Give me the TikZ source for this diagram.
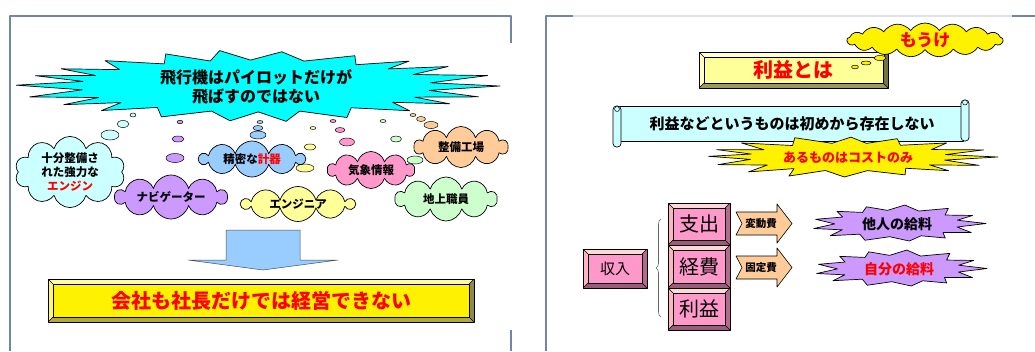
\documentclass[tikz,border=0pt]{standalone}
\usepackage{fontspec}
\setmainfont{Noto Sans CJK JP}[BoldFont={Noto Sans CJK JP Black}]
\usetikzlibrary{shapes.symbols,decorations.pathreplacing,calc}
\definecolor{frameC}{HTML}{7186A8}
\definecolor{frameL}{HTML}{DCE3EE}
\definecolor{cyanB}{HTML}{00FFFF}
\definecolor{lcyan}{HTML}{CCFFFF}
\definecolor{lpurple}{HTML}{CC99FF}
\definecolor{lblue}{HTML}{99CCFF}
\definecolor{lyellow}{HTML}{FFFF99}
\definecolor{lpink}{HTML}{FF99CC}
\definecolor{lgreen}{HTML}{CCFFCC}
\definecolor{lorange}{HTML}{FFCC99}
\definecolor{redT}{HTML}{FF0000}
\newcommand\bevw{5pt}
\newcommand\boom[7]{%
  \pgfmathtruncatemacro\boomS{2*#5}%
  \pgfmathtruncatemacro\boomE{2*#5-1}%
  \draw[#7] plot[variable=\i, domain=0:\boomE, samples=\boomS]
   ({#1+#3*(mod(round(\i),2)==0 ? 1-0.07*abs(sin(\i*73)) : #6)*cos(\i*180/#5+2*sin(\i*51))},
    {#2+#4*(mod(round(\i),2)==0 ? 1-0.07*abs(sin(\i*73)) : #6)*sin(\i*180/#5+2*sin(\i*51))}) -- cycle;}
\tikzset{
  frame/.style={draw=frameC, line width=1.3pt},
  framelight/.style={draw=frameL, line width=1.3pt},
  outl/.style={draw=black, line width=0.7pt},
  cloudy/.style={cloud, cloud puffs=10, cloud ignores aspect, draw=black, line width=0.7pt,
     inner sep=0pt, align=center, font=\bfseries\fontsize{11.5}{14}\selectfont},
  bub/.style={fill=#1, draw=black, line width=0.5pt},
  bevelbox/.style n args={5}{draw=black, line width=0.6pt, fill=#1, inner sep=0pt,
    path picture={
      \coordinate (pnw) at (path picture bounding box.north west);
      \coordinate (pne) at (path picture bounding box.north east);
      \coordinate (psw) at (path picture bounding box.south west);
      \coordinate (pse) at (path picture bounding box.south east);
      \coordinate (inw) at ([shift={(\bevw,-\bevw)}]pnw);
      \coordinate (ine) at ([shift={(-\bevw,-\bevw)}]pne);
      \coordinate (isw) at ([shift={(\bevw,\bevw)}]psw);
      \coordinate (ise) at ([shift={(-\bevw,\bevw)}]pse);
      \fill[#2] (pnw) -- (pne) -- (ine) -- (inw) -- cycle;
      \fill[#3] (pnw) -- (inw) -- (isw) -- (psw) -- cycle;
      \fill[#4] (psw) -- (isw) -- (ise) -- (pse) -- cycle;
      \fill[#5] (pne) -- (pse) -- (ise) -- (ine) -- cycle;
      \draw[line width=0.5pt] (inw) rectangle (ise);
      \draw[line width=0.4pt] (pnw) -- (inw) (pne) -- (ine) (psw) -- (isw) (pse) -- (ise);
    }},
  pinkbox/.style={bevelbox={lpink}{pink!60!white}{pink!70!lpink}{lpink!60!black}{lpink!70!black}},
  arr/.style={fill=lorange, draw=black, line width=0.6pt},
}
\begin{document}
\begin{tikzpicture}[x=1pt,y=-1pt,line join=round]
\useasboundingbox[fill=white] (0,0) rectangle (1035,351);
% frames
\draw[frame] (10,351) -- (10,16) -- (511,16) -- (511,43);
\draw[frame] (511,330) -- (511,351);
\draw[framelight] (573,16) -- (1012,16);
\draw[frame] (546,351) -- (546,16) -- (573,16);
\draw[frame] (1012,16) -- (1035,16);

% ===== left panel =====
\boom{256}{86}{244}{36}{22}{0.72}{fill=cyanB, outl}
\node[font=\bfseries\fontsize{16}{19}\selectfont, align=center] (title) at (256,87)
  {飛行機はパイロットだけが\\飛ばすのではない};

% thought bubbles
\draw[bub=lcyan] (133,115) ellipse (3 and 2) (123,124) ellipse (6 and 3.5) (110,135) ellipse (9 and 5);
\draw[bub=lpurple] (180,122) ellipse (3 and 1.7) (178,139) ellipse (6 and 3) (175,158) ellipse (9 and 4.5);
\draw[bub=lblue] (260,122) ellipse (3 and 1.5) (258,128) ellipse (5 and 2.5) (258,135) ellipse (8 and 4);
\draw[bub=lyellow] (313,128) ellipse (3 and 1.5) (310,147) ellipse (6 and 3) (305,168) ellipse (9 and 4);
\draw[bub=lpink] (333,121) ellipse (3 and 1.5) (340,130) ellipse (5 and 2.5) (347,142) ellipse (7.5 and 4);
\draw[bub=lgreen] (383,121) ellipse (3 and 1.5) (396,139) ellipse (5.5 and 3) (415,160) ellipse (8 and 4);
\draw[bub=lorange] (413,115) ellipse (3 and 1.5) (421,119) ellipse (4.5 and 2.5) (431,125) ellipse (7 and 3.5);

% clouds
\node[cloudy, fill=lcyan, minimum width=110, minimum height=66] (engine) at (70,172)
  {十分整備さ\\れた強力な\\\textcolor{redT}{エンジン}};
\node[cloudy, fill=lpurple, minimum width=112, minimum height=44] (navi) at (171,197) {ナビゲーター};
\node[cloudy, fill=lblue, minimum width=105, minimum height=36] (keiki) at (252,159) {精密な\textcolor{redT}{計器}};
\node[cloudy, fill=lyellow, minimum width=112, minimum height=35] (enginr) at (298,204) {エンジニア};
\node[cloudy, fill=lpink, minimum width=87, minimum height=37] (kisho) at (371,170) {気象情報};
\node[cloudy, fill=lorange, minimum width=94, minimum height=41] (kojo) at (461,147) {整備工場};
\node[cloudy, fill=lgreen, minimum width=102, minimum height=44] (chijo) at (446,199) {地上職員};

% down arrow
\draw[fill=lblue, draw=black!70, line width=0.5pt] (226,230) -- (300,230) -- (300,260) -- (338,260)
  -- (263,270) -- (188,260) -- (226,260) -- cycle;

% bottom yellow box
\node[bevelbox={yellow}{yellow!35!white}{yellow!60!white}{yellow!65!black}{yellow!50!black},
  minimum width=426, minimum height=43, font=\bfseries\fontsize{20}{24}\selectfont, text=redT]
  (kaisha) at (261,300.5) {会社も社長だけでは経営できない};

% ===== right panel =====
\node[bevelbox={lyellow}{lyellow!40!white}{lyellow!60!white}{lyellow!60!black}{lyellow!45!black},
  minimum width=189, minimum height=36, font=\bfseries\fontsize{20}{24}\selectfont, text=redT]
  (rieki) at (793.5,70) {利益とは};

\node[cloudy, fill=yellow, cloud puffs=17, cloud puff arc=110, minimum width=156, minimum height=34,
  font=\bfseries\fontsize{17}{20}\selectfont, text=redT] (mouke) at (925,40) {もうけ};
\draw[bub=yellow] (880,58) ellipse (6 and 2.5) (866,63) ellipse (5 and 2) (855,67) ellipse (3.5 and 1.8);

% scroll
\draw[fill=lcyan, outl] (619,106) rectangle (963,141);
\draw[fill=lcyan, outl, rounded corners=3.5] (613,106) rectangle (621,147);
\draw[fill=lcyan, line width=0.5pt] (617,109) circle (2.5);
\draw[fill=lcyan, outl, rounded corners=3.5] (961,100) rectangle (969,141);
\draw[fill=lcyan, line width=0.5pt] (965,102.5) circle (2.5);
\node[font=\bfseries\fontsize{15}{18}\selectfont] (sonzai) at (792,124)
  {利益などというものは初めから存在しない};

\boom{848}{157}{150}{21}{16}{0.66}{fill=yellow, outl}
\node[font=\bfseries\fontsize{13}{16}\selectfont, text=redT] (cost) at (848,158) {あるものはコストのみ};

% income boxes
\node[pinkbox, minimum width=64, minimum height=39, font=\fontsize{15}{18}\selectfont] (shunyu) at (615,268.5) {収入};
\node[pinkbox, minimum width=62, minimum height=42, font=\fontsize{20}{24}\selectfont] (shishutsu) at (699,224) {支出};
\node[pinkbox, minimum width=62, minimum height=43, font=\fontsize{20}{24}\selectfont] (keihi) at (699,266.5) {経費};
\node[pinkbox, minimum width=62, minimum height=42, font=\fontsize{20}{24}\selectfont] (riekib) at (699,309) {利益};

\coordinate (brTop) at (661,219);
\coordinate (brBot) at (661,317);
\draw[draw=black!60, line width=0.6pt, decorate, decoration={brace, amplitude=5pt}] (brBot) -- (brTop);

% arrows
\draw[arr] (736,212) -- (777,212) -- (777,204) -- (792,223.5) -- (777,243) -- (777,235) -- (736,235) -- (742,223.5) -- cycle;
\node[font=\bfseries\fontsize{10.5}{12}\selectfont] (hendo) at (761,223.5) {変動費};
\draw[arr] (736,256) -- (777,256) -- (777,248) -- (792,267.5) -- (777,287) -- (777,279) -- (736,279) -- (742,267.5) -- cycle;
\node[font=\bfseries\fontsize{10.5}{12}\selectfont] (kotei) at (761,267.5) {固定費};

\boom{897}{223.5}{89}{19}{13}{0.7}{fill=lpurple, outl}
\node[font=\bfseries\fontsize{14}{17}\selectfont] (tanin) at (897,224) {他人の給料};
\boom{899}{268.5}{88}{19}{13}{0.7}{fill=lpurple, outl}
\node[font=\bfseries\fontsize{14}{17}\selectfont, text=redT] (jibun) at (899,269) {自分の給料};
\end{tikzpicture}
\end{document}
